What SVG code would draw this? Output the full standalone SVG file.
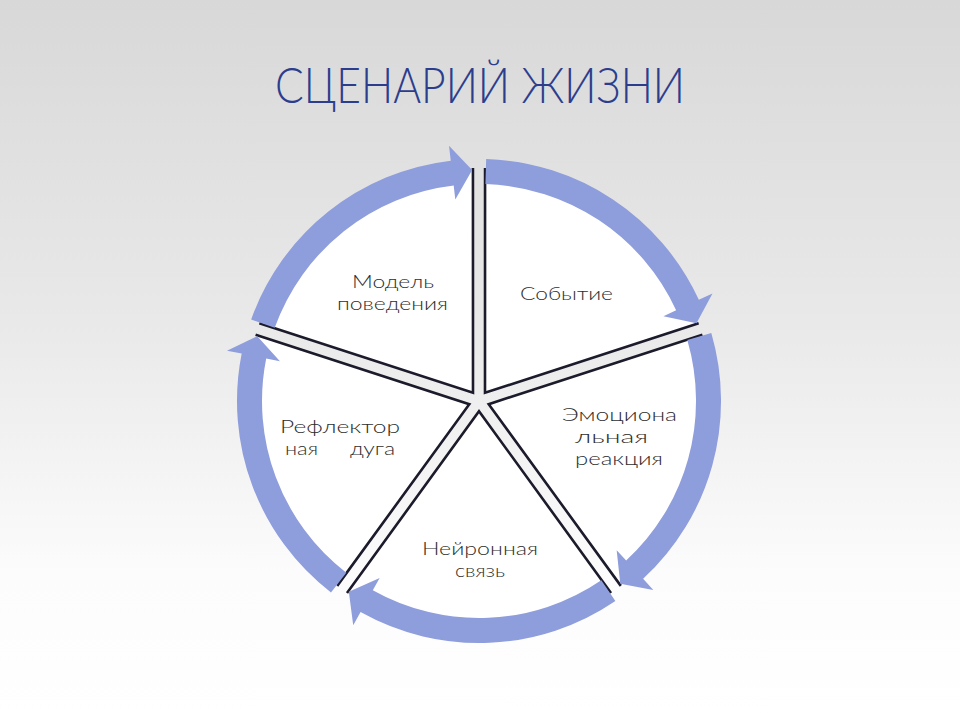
<svg xmlns="http://www.w3.org/2000/svg" width="960" height="720" viewBox="0 0 960 720">
  <defs>
    <linearGradient id="bg" gradientUnits="userSpaceOnUse" x1="0" y1="0" x2="0" y2="720">
      <stop offset="0" stop-color="#d8d8d8"/>
      <stop offset="0.45" stop-color="#e9e9e9"/>
      <stop offset="0.8" stop-color="#fcfcfc"/>
      <stop offset="1" stop-color="#ffffff"/>
    </linearGradient>
    <style>
      .wedge { fill: #ffffff; stroke: none; }
      .edge { fill: none; stroke: #1b1b2b; stroke-width: 2.6; stroke-linejoin: miter; }
      .arrow { fill: #8e9ddb; stroke: none; }
      .lbl { font-family: Lato, "Liberation Sans", Arial, sans-serif; font-weight: 300; font-size: 18px; fill: #2e2e2e; }
      .title { font-family: Lato, "Liberation Sans", Arial, sans-serif; font-weight: 300; font-size: 50px; fill: #2c3d8d; }
    </style>
  </defs>
  <rect x="0" y="0" width="960" height="720" fill="url(#bg)"/>

  <g id="title">
    <text class="title" x="480" y="103" text-anchor="middle" textLength="410" lengthAdjust="spacingAndGlyphs">СЦЕНАРИЙ ЖИЗНИ</text>
  </g>

  <g id="node-event">
    <path class="wedge" d="M485.0,392.75 L484.98,171.08 A230,230 0 0 1 695.83,324.26 Z"/>
    <path class="edge" d="M485.06,168.08 L485.0,392.75 L698.65,323.26"/>
    <text class="lbl" x="566.5" y="300" text-anchor="middle" textLength="93" lengthAdjust="spacingAndGlyphs">Событие</text>
  </g>

  <g id="node-emotion">
    <path class="wedge" d="M488.70,404.15 L699.54,335.64 A230,230 0 0 1 619.00,583.50 Z"/>
    <path class="edge" d="M702.41,334.79 L488.70,404.15 L620.82,585.88"/>
    <text class="lbl" x="619.5" y="421" text-anchor="middle" textLength="115" lengthAdjust="spacingAndGlyphs">Эмоциона</text>
    <text class="lbl" x="611.5" y="443" text-anchor="middle" textLength="73" lengthAdjust="spacingAndGlyphs">льная</text>
    <text class="lbl" x="619" y="465" text-anchor="middle" textLength="88" lengthAdjust="spacingAndGlyphs">реакция</text>
  </g>

  <g id="node-neural">
    <path class="wedge" d="M479,411.2 L609.31,590.52 A230,230 0 0 1 348.69,590.52 Z"/>
    <path class="edge" d="M611.01,593.00 L479,411.2 L346.99,593.00"/>
    <text class="lbl" x="480" y="555" text-anchor="middle" textLength="116" lengthAdjust="spacingAndGlyphs">Нейронная</text>
    <text class="lbl" x="480" y="577" text-anchor="middle" textLength="50" lengthAdjust="spacingAndGlyphs">связь</text>
  </g>

  <g id="node-reflex">
    <path class="wedge" d="M469.30,404.15 L339.00,583.50 A230,230 0 0 1 258.46,335.64 Z"/>
    <path class="edge" d="M337.18,585.88 L469.30,404.15 L255.59,334.79"/>
    <text class="lbl" x="340" y="433" text-anchor="middle" textLength="120" lengthAdjust="spacingAndGlyphs">Рефлектор</text>
    <text class="lbl" x="285" y="455" textLength="33" lengthAdjust="spacingAndGlyphs">ная</text>
    <text class="lbl" x="350" y="455" textLength="45" lengthAdjust="spacingAndGlyphs">дуга</text>
  </g>

  <g id="node-model">
    <path class="wedge" d="M473.0,392.75 L262.17,324.26 A230,230 0 0 1 473.02,171.08 Z"/>
    <path class="edge" d="M259.35,323.26 L473.0,392.75 L472.94,168.08"/>
    <text class="lbl" x="393" y="288" text-anchor="middle" textLength="82" lengthAdjust="spacingAndGlyphs">Модель</text>
    <text class="lbl" x="392.5" y="310" text-anchor="middle" textLength="111" lengthAdjust="spacingAndGlyphs">поведения</text>
  </g>

  <g id="connectors">
    <path class="arrow" d="M251.16,319.42 A242,242 0 0 1 450.76,160.65 L449.01,145.75 L472.15,170.10 L455.31,199.38 L453.68,185.48 A217,217 0 0 0 274.69,327.85 Z"/>
    <path class="arrow" d="M486.18,159.11 A242,242 0 0 1 698.86,299.87 L712.48,293.60 L696.49,323.13 L663.43,316.17 L676.14,310.32 A217,217 0 0 0 485.44,184.10 Z"/>
    <path class="arrow" d="M711.30,333.09 A242,242 0 0 1 643.12,578.87 L653.30,589.90 L620.28,583.77 L616.67,550.21 L626.17,560.50 A217,217 0 0 0 687.30,340.11 Z"/>
    <path class="arrow" d="M615.37,600.92 A242,242 0 0 1 360.57,612.05 L353.22,625.13 L348.83,591.83 L379.65,578.04 L372.80,590.25 A217,217 0 0 0 601.28,580.26 Z"/>
    <path class="arrow" d="M330.99,592.47 A242,242 0 0 1 241.69,353.59 L226.99,350.65 L257.26,336.18 L279.94,361.23 L266.21,358.49 A217,217 0 0 0 346.28,572.69 Z"/>
  </g>
</svg>
